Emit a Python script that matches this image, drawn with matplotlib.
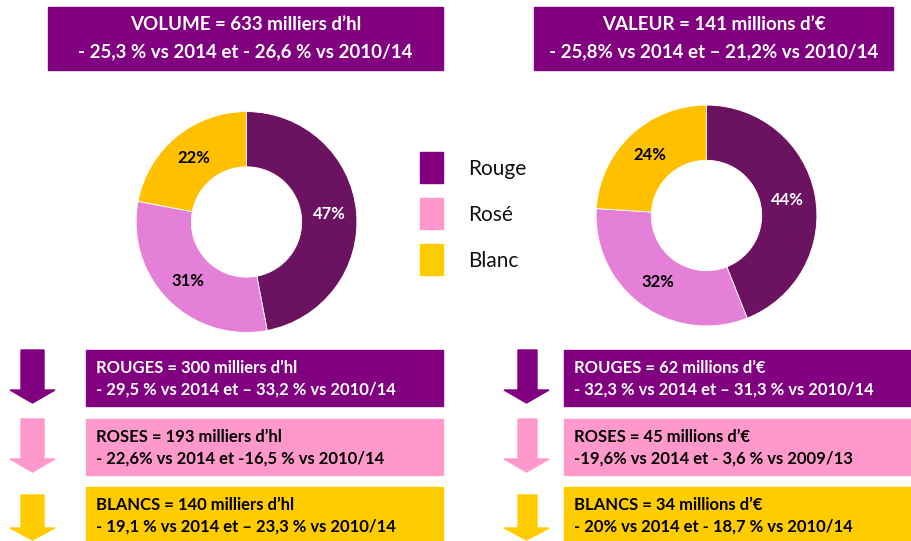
import numpy as np
import matplotlib.pyplot as plt
from matplotlib.patches import Rectangle, Polygon

plt.rcParams['font.family'] = ['Lato', 'DejaVu Sans']

# donut data (parts in %)
categories = ['Rouge', 'Rosé', 'Blanc']
volume_pct = [47, 31, 22]
valeur_pct = [44, 32, 24]

donut_colors = ['#6B1261', '#E580D8', '#FFC000']
legend_colors = ['#800080', '#FF99CC', '#FFCC00']
box_colors = ['#800080', '#FF99CC', '#FFCC00']
box_text_colors = ['white', 'black', 'black']

title_left = ["VOLUME = 633 milliers d\u2019hl",
              "- 25,3 % vs 2014 et - 26,6 % vs 2010/14"]
title_right = ["VALEUR = 141 millions d\u2019\u20ac",
               "- 25,8% vs 2014 et \u2013 21,2% vs 2010/14"]

boxes_left = [
    ["ROUGES = 300 milliers d\u2019hl", "- 29,5 % vs 2014 et \u2013 33,2 % vs 2010/14"],
    ["ROSES = 193 milliers d\u2019hl", "- 22,6% vs 2014 et -16,5 % vs 2010/14"],
    ["BLANCS = 140 milliers d\u2019hl", "- 19,1 % vs 2014 et \u2013 23,3 % vs 2010/14"],
]
boxes_right = [
    ["ROUGES = 62 millions d\u2019\u20ac", "- 32,3 % vs 2014 et \u2013 31,3 % vs 2010/14"],
    ["ROSES = 45 millions d\u2019\u20ac", "-19,6% vs 2014 et - 3,6 % vs 2009/13"],
    ["BLANCS = 34 millions d\u2019\u20ac", "- 20% vs 2014 et - 18,7 % vs 2010/14"],
]

W, H = 911, 541
fig = plt.figure(figsize=(W / 100, H / 100), dpi=100)
bg = fig.add_axes([0, 0, 1, 1])
bg.set_xlim(0, W)
bg.set_ylim(H, 0)
bg.axis('off')


def title_box(x0, x1, lines):
    bg.add_patch(Rectangle((x0, 7), x1 - x0, 63, color='#800080'))
    cx = (x0 + x1) / 2
    bg.text(cx, 25, lines[0], color='white', fontsize=13.5, fontweight='bold',
            ha='center', va='center')
    bg.text(cx, 52, lines[1], color='white', fontsize=13.5, fontweight='bold',
            ha='center', va='center')


title_box(48, 443, title_left)
title_box(534, 893, title_right)


def donut(cx, cy, r, vals):
    ax = fig.add_axes([(cx - r) / W, 1 - (cy + r) / H, 2 * r / W, 2 * r / H])
    wedges, texts, autotexts = ax.pie(
        vals, colors=donut_colors, startangle=90, counterclock=False,
        radius=1, wedgeprops=dict(width=0.5, edgecolor='white', linewidth=0.6),
        autopct='%d%%', pctdistance=0.75,
        textprops=dict(fontsize=12, fontweight='bold'))
    for t, c in zip(autotexts, ['white', 'black', 'black']):
        t.set_color(c)
    ax.set_xlim(-1.01, 1.01)
    ax.set_ylim(-1.01, 1.01)
    ax.axis('off')


donut(246.5, 222, 111.5, volume_pct)
donut(706.5, 215.5, 111.5, valeur_pct)

# legend
for i, (lab, c) in enumerate(zip(categories, legend_colors)):
    y = 152 + i * 46
    bg.add_patch(Rectangle((420, y), 23, 31, color=c))
    bg.text(468, y + 17, lab, fontsize=15, ha='left', va='center', color='#111111')


def arrow(x0, x1, s0, s1, ytop, yhead, ybot, color):
    pts = [(s0, ytop), (s1, ytop), (s1, yhead), (x1, yhead),
           ((x0 + x1) / 2, ybot), (x0, yhead), (s0, yhead)]
    bg.add_patch(Polygon(pts, closed=True, color=color))


box_rows = [(350, 406), (419, 475), (487, 545)]
arrow_rows = [(350, 390, 403), (419, 459, 472), (495, 528, 540)]


def detail(xbox0, xbox1, ax0, ax1, as0, as1, items):
    for i, lines in enumerate(items):
        y0, y1 = box_rows[i]
        bg.add_patch(Rectangle((xbox0, y0), xbox1 - xbox0, y1 - y0, color=box_colors[i]))
        bg.text(xbox0 + 10, y0 + 18, lines[0], color=box_text_colors[i],
                fontsize=12, fontweight='bold', ha='left', va='center')
        bg.text(xbox0 + 10, y0 + 40, lines[1], color=box_text_colors[i],
                fontsize=12, fontweight='bold', ha='left', va='center')
        a, b, c = arrow_rows[i]
        arrow(ax0, ax1, as0, as1, a, b, c, box_colors[i])


detail(86, 443, 10, 55, 21, 44, boxes_left)
detail(564, 911, 504, 549, 518, 537, boxes_right)

fig.savefig('out.png', dpi=100)
